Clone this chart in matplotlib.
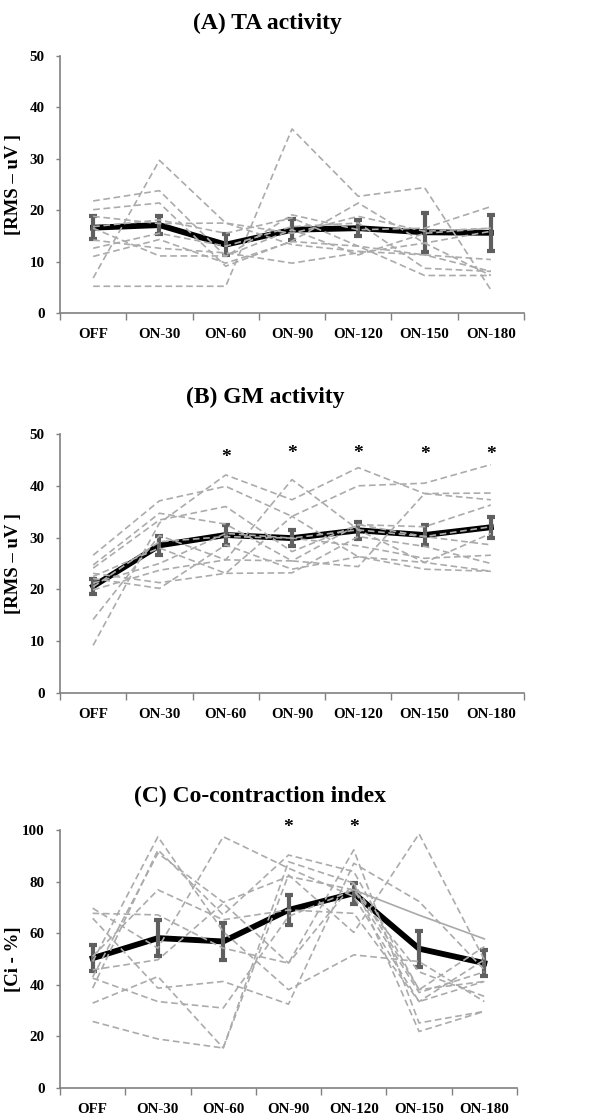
import numpy as np
import matplotlib
matplotlib.use('Agg')
import matplotlib.pyplot as plt

plt.rcParams['font.family'] = ['Liberation Serif', 'DejaVu Serif']
plt.rcParams['font.weight'] = 'bold'

conditions = ['OFF', 'ON-30', 'ON-60', 'ON-90', 'ON-120', 'ON-150', 'ON-180']

# (A) TA activity
ta_mean = [16.6, 17.1, 13.3, 16.2, 16.5, 15.7, 15.6]
ta_err = [2.3, 1.8, 2.1, 2.0, 1.6, 3.8, 3.5]
ta_subjects = [
    [5.2, 5.2, 5.2, 35.8, 22.7, 24.4, 4.5],
    [6.8, 29.7, 17.5, 13.3, 12.0, 11.3, 8.1],
    [21.8, 23.8, 11.0, 19.1, 16.2, 16.5, 20.7],
    [20.1, 21.4, 9.1, 14.0, 21.4, 13.6, 7.3],
    [18.8, 17.4, 17.5, 15.5, 18.8, 15.9, 16.5],
    [16.8, 18.1, 15.5, 18.5, 13.0, 11.3, 10.4],
    [14.2, 12.6, 11.7, 9.7, 11.7, 13.6, 15.9],
    [12.6, 15.5, 13.0, 16.8, 17.5, 8.7, 8.1],
    [11.0, 14.3, 9.7, 13.9, 13.0, 7.3, 7.3],
    [16.5, 11.1, 11.1, 16.2, 11.3, 15.5, 16.5],
]

# (B) GM activity
gm_mean = [20.6, 28.5, 30.5, 29.9, 31.4, 30.5, 32.0]
gm_err = [1.5, 1.8, 2.0, 1.6, 1.7, 1.9, 2.0]
gm_subjects = [
    [9.2, 32.8, 42.1, 37.3, 43.5, 38.5, 38.6],
    [14.2, 30.4, 25.7, 41.2, 31.5, 25.2, 23.5],
    [26.6, 37.1, 39.9, 34.1, 40.0, 40.5, 44.1],
    [24.7, 34.7, 32.6, 25.5, 24.4, 38.5, 37.3],
    [24.1, 33.4, 36.0, 27.3, 32.5, 32.1, 36.3],
    [23.1, 21.3, 23.1, 23.2, 30.2, 28.3, 25.0],
    [22.1, 20.2, 28.6, 23.9, 26.3, 23.9, 23.5],
    [21.2, 25.0, 30.8, 29.9, 28.4, 26.0, 26.6],
    [20.5, 29.2, 30.2, 29.9, 31.5, 30.2, 32.1],
    [19.9, 23.7, 25.7, 25.5, 32.5, 30.2, 28.6],
    [22.5, 28.0, 23.1, 34.1, 26.3, 25.2, 30.8],
]

# (C) Co-contraction index
ci_mean = [50.3, 58.1, 56.8, 69.0, 75.5, 54.0, 48.4]
ci_err = [5.0, 7.0, 7.2, 5.8, 4.0, 7.0, 5.0]
ci_subjects = [
    [25.8, 19.0, 15.5, 87.7, 79.4, 21.9, 29.7],
    [32.9, 43.2, 15.5, 82.6, 60.3, 98.5, 49.7],
    [69.7, 54.2, 97.4, 85.2, 74.2, 33.5, 41.3],
    [67.7, 67.1, 54.2, 48.4, 92.3, 25.2, 29.7],
    [65.8, 38.7, 41.3, 32.5, 87.1, 72.3, 45.8],
    [49.0, 97.4, 60.6, 38.1, 51.6, 49.0, 33.5],
    [38.7, 92.3, 67.1, 90.3, 83.9, 38.1, 54.8],
    [42.6, 33.5, 31.0, 66.5, 76.8, 45.0, 35.5],
    [51.0, 76.8, 65.2, 69.0, 67.7, 33.5, 49.7],
    [45.8, 49.7, 71.6, 48.4, 79.4, 38.1, 41.3],
    [43.0, 91.0, 72.0, 82.0, 76.8, 37.0, 45.0],
]
# one subject drawn as thin solid line (later sessions only)
ci_solid = [np.nan, np.nan, np.nan, np.nan, 76.8, 67.0, 57.8]

gm_star = [None, None, 45.5, 46.2, 46.3, 46.0, 46.0]
ci_star = [None, None, None, 101.0, 101.0, None, None]

fig = plt.figure(figsize=(6.11, 11.18), dpi=100)

W, H = 611, 1118


def make_axes(left, top, right, bottom):
    return fig.add_axes([left / W, 1 - bottom / H, (right - left) / W, (bottom - top) / H])


def draw_panel(ax, mean, err, subjects, ymax, ystep, ylabel, stars, extra=None):
    x = np.arange(len(conditions))
    ax.plot(x, mean, color='black', lw=4.2, zorder=2, solid_joinstyle='round')
    ax.errorbar(x, mean, yerr=err, fmt='none', ecolor='#5f5f5f', elinewidth=3,
                capsize=2.6, capthick=3, zorder=3)
    for s in subjects:
        ax.plot(x, s, color='#ababab', lw=1.2, ls=(0, (4, 2.2)), zorder=4)
    if extra is not None:
        ax.plot(x, extra, color='#a9a9a9', lw=1.2, zorder=4)
    for xi, sy in zip(x, stars):
        if sy is not None:
            ax.text(xi, sy, '*', ha='center', va='center', fontsize=14,
                    fontweight='bold', clip_on=False)
    ax.set_xlim(-0.5, len(conditions) - 0.5)
    ax.set_ylim(0, ymax)
    ax.set_yticks(np.arange(0, ymax + 1, ystep))
    ax.set_xticks(np.arange(-0.5, len(conditions), 1.0))
    ax.set_xticklabels([])
    ax.set_xticks(x, minor=True)
    ax.set_xticklabels(conditions, minor=True)
    ax.tick_params(axis='x', which='major', length=5, width=1, color='#808080', direction='out')
    ax.tick_params(axis='x', which='minor', length=0, pad=11, labelsize=10.8)
    ax.tick_params(axis='y', length=3, width=1, color='#808080', pad=8, labelsize=10.8)
    for lab in ax.get_xticklabels(minor=True) + ax.get_yticklabels():
        lab.set_fontweight('bold')
    for sp in ['top', 'right']:
        ax.spines[sp].set_visible(False)
    for sp in ['left', 'bottom']:
        ax.spines[sp].set_color('#808080')
        ax.spines[sp].set_linewidth(1.2)
    ax.set_ylabel(ylabel, fontsize=13.5, fontweight='bold')


axA = make_axes(60, 56, 524, 313)
draw_panel(axA, ta_mean, ta_err, ta_subjects, 50, 10, '[RMS – uV ]', [None] * 7)
axA.yaxis.set_label_coords(-0.082, 0.5)
fig.text(267 / W, 1 - 23 / H, '(A) TA activity', ha='center', va='center',
         fontsize=17, fontweight='bold')

axB = make_axes(60, 434, 524, 693)
draw_panel(axB, gm_mean, gm_err, gm_subjects, 50, 10, '[RMS – uV ]', gm_star)
axB.yaxis.set_label_coords(-0.082, 0.5)
fig.text(265 / W, 1 - 397 / H, '(B) GM activity', ha='center', va='center',
         fontsize=17, fontweight='bold')

axC = make_axes(60, 830, 517, 1088)
draw_panel(axC, ci_mean, ci_err, ci_subjects, 100, 20, '[Ci - %]', ci_star, extra=ci_solid)
axC.yaxis.set_label_coords(-0.083, 0.5)
fig.text(260 / W, 1 - 796 / H, '(C) Co-contraction index', ha='center', va='center',
         fontsize=17, fontweight='bold')

fig.savefig('out.png', dpi=100)
